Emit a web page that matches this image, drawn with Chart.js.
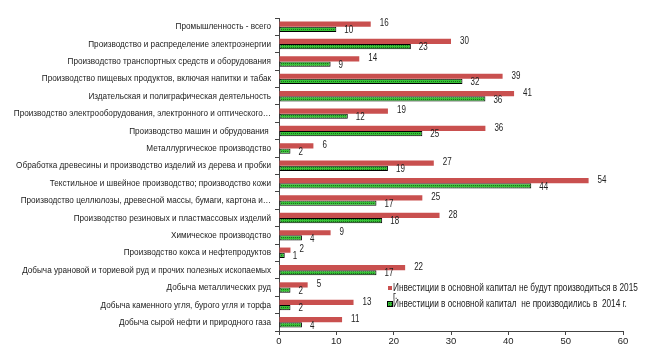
<!DOCTYPE html>
<html>
<head>
<meta charset="utf-8">
<script src="https://cdn.jsdelivr.net/npm/chart.js@4.4.1/dist/chart.umd.min.js"></script>
<style>
html,body{margin:0;padding:0;background:#fff;}
#wrap{width:650px;height:356px;position:relative;}
</style>
</head>
<body>
<div id="wrap"><canvas id="c" width="650" height="356"></canvas></div>
<script>
const categories = [
  "Промышленность - всего",
  "Производство и распределение электроэнергии",
  "Производство транспортных средств и оборудования",
  "Производство пищевых продуктов, включая напитки и табак",
  "Издательская и полиграфическая деятельность",
  "Производство электрооборудования, электронного и оптического…",
  "Производство машин и обрудования ",
  "Металлургическое производство",
  "Обработка древесины и производство изделий из дерева и пробки",
  "Текстильное и швейное производство; производство кожи",
  "Производство целлюлозы, древесной массы, бумаги, картона и…",
  "Производство резиновых и пластмассовых изделий",
  "Химическое производство",
  "Производство кокса и нефтепродуктов",
  "Добыча урановой и ториевой руд и прочих полезных ископаемых",
  "Добыча металлических руд",
  "Добыча каменного угля, бурого угля и торфа",
  "Добыча сырой нефти и природного газа"
];
const series2015Label = "Инвестиции в основной капитал не будут производиться в 2015 г.";
const series2014Label = "Инвестиции в основной капитал  не производились в  2014 г.";
const values2015 = [16, 30, 14, 39, 41, 19, 36, 6, 27, 54, 25, 28, 9, 2, 22, 5, 13, 11];
const values2014 = [10, 23, 9, 32, 36, 12, 25, 2, 19, 44, 17, 18, 4, 1, 17, 2, 2, 4];
const xTicks = [0, 10, 20, 30, 40, 50, 60];

const FONT = "'Liberation Sans', Arial, sans-serif";
const RED = '#c9504f';
const TEXT = '#222';

function makePattern() {
  const p = document.createElement('canvas');
  p.width = 2; p.height = 2;
  const g = p.getContext('2d');
  g.fillStyle = '#36c236';
  g.fillRect(0, 0, 2, 2);
  g.fillStyle = '#1d6b1d';
  g.fillRect(1, 1, 1, 1);
  return g.createPattern(p, 'repeat');
}
const ctx = document.getElementById('c').getContext('2d');
const pattern = makePattern();

// draw horizontally condensed text
function drawText(c, text, x, y, size, sx, align) {
  c.save();
  c.translate(x, y);
  c.scale(sx, 1);
  c.font = size + 'px ' + FONT;
  c.textAlign = align || 'left';
  c.textBaseline = 'middle';
  c.fillStyle = TEXT;
  c.fillText(text, 0, 0);
  c.restore();
}

const categoryLabels = {
  id: 'categoryLabels',
  afterDraw(chart) {
    const s = chart.scales.y;
    const c = chart.ctx;
    chart.data.labels.forEach((lab, i) => {
      const y = s.getPixelForTick(i);
      drawText(c, lab, s.right - 8, y, 9.5, 0.86, 'right');
    });
  }
};

const valueLabels = {
  id: 'valueLabels',
  afterDatasetsDraw(chart) {
    const c = chart.ctx;
    chart.data.datasets.forEach((ds, di) => {
      const meta = chart.getDatasetMeta(di);
      meta.data.forEach((el, i) => {
        const off = di === 0 ? 9 : 8;
        const dy = di === 0 ? -0.5 : 1;
        drawText(c, String(ds.data[i]), el.x + off, el.y + dy, 10, 0.8, 'left');
      });
    });
  }
};

const customLegend = {
  id: 'customLegend',
  afterDraw(chart) {
    const c = chart.ctx;
    c.save();
    c.fillStyle = RED;
    c.fillRect(388, 286, 4, 4);
    c.fillStyle = pattern;
    c.fillRect(388, 302, 4, 4);
    c.strokeStyle = '#000';
    c.lineWidth = 1;
    c.strokeRect(387.5, 301.5, 5, 5);
    c.restore();
    drawText(c, "Инвестиции в основной капитал не будут производиться в 2015", 393, 288.5, 10, 0.825, 'left');
    drawText(c, "г.", 393, 296.5, 10, 0.825, 'left');
    drawText(c, series2014Label, 393, 304.5, 10, 0.825, 'left');
  }
};

new Chart(ctx, {
  type: 'bar',
  data: {
    labels: categories,
    datasets: [
      {
        label: series2015Label,
        data: values2015,
        backgroundColor: RED,
        borderWidth: 0,
        categoryPercentage: 0.6,
        barPercentage: 1.0
      },
      {
        label: series2014Label,
        data: values2014,
        backgroundColor: pattern,
        borderColor: '#000',
        borderWidth: 1,
        borderSkipped: false,
        categoryPercentage: 0.6,
        barPercentage: 1.0
      }
    ]
  },
  options: {
    indexAxis: 'y',
    responsive: false,
    animation: false,
    layout: { padding: { top: 18, right: 27, bottom: 0, left: 0 } },
    plugins: {
      legend: { display: false },
      tooltip: { enabled: false }
    },
    scales: {
      x: {
        min: 0,
        max: 60,
        afterBuildTicks(scale) { scale.ticks = xTicks.map(v => ({ value: v })); },
        afterFit(scale) { scale.height = 25; },
        grid: { drawOnChartArea: false, drawTicks: true, tickLength: 4, color: '#444' },
        border: { display: true, color: '#444', width: 1 },
        ticks: { font: { family: FONT, size: 9.5 }, color: TEXT, padding: 1, maxRotation: 0 }
      },
      y: {
        afterFit(scale) { scale.width = 279; },
        grid: { drawOnChartArea: false, drawTicks: true, tickLength: 4, color: '#444', offset: true },
        border: { display: true, color: '#444', width: 1 },
        ticks: { display: false, autoSkip: false }
      }
    }
  },
  plugins: [valueLabels, categoryLabels, customLegend]
});
</script>
</body>
</html>
